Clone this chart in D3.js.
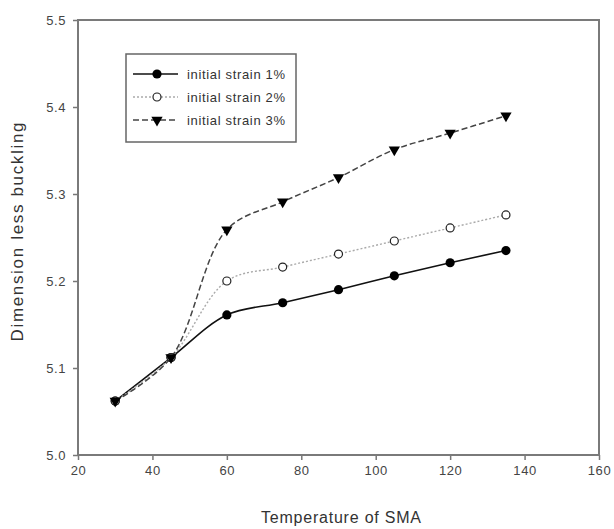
<!DOCTYPE html>
<html>
<head>
<meta charset="utf-8">
<script src="https://cdn.jsdelivr.net/npm/d3@7"></script>
<style>
  body { margin: 0; background: #fff; }
  svg { display: block; font-family: "Liberation Sans", Arial, sans-serif; }
</style>
</head>
<body>
<svg width="614" height="529"></svg>
<script>
// Data
const temperature = [30, 45, 60, 75, 90, 105, 120, 135];
const strain1 = [5.062, 5.112, 5.161, 5.175, 5.190, 5.206, 5.221, 5.235];
const strain2 = [5.062, 5.112, 5.200, 5.216, 5.231, 5.246, 5.261, 5.276];
const strain3 = [5.062, 5.112, 5.259, 5.291, 5.319, 5.351, 5.370, 5.390];
const seriesNames = ["initial strain 1%", "initial strain 2%", "initial strain 3%"];
const xTicks = [20, 40, 60, 80, 100, 120, 140, 160];
const yTicks = [5.0, 5.1, 5.2, 5.3, 5.4, 5.5];

const svg = d3.select("svg");
const margin = { left: 78, top: 20, right: 15, bottom: 74 };
const width = 614 - margin.left - margin.right;
const height = 529 - margin.top - margin.bottom;

const x = d3.scaleLinear().domain([20, 160]).range([0, width]);
const y = d3.scaleLinear().domain([5.0, 5.5]).range([height, 0]);

const g = svg.append("g").attr("transform", `translate(${margin.left},${margin.top})`);

// series styles: solid/filled circle, dotted/open circle, dashed/triangle
const styles = [
    { stroke: "#111", dash: null, width: 1.6, marker: "filled" },
    { stroke: "#aaa", dash: "2,2", width: 1.4, marker: "open" },
    { stroke: "#444", dash: "6,3", width: 1.5, marker: "triangle" }
];
const series = [strain1, strain2, strain3].map((vals, i) => ({
    name: seriesNames[i],
    style: styles[i],
    points: temperature.map((t, j) => ({ t: t, v: vals[j] }))
}));

// axes (ticks only, the frame is drawn as a rect)
const xAxis = g.append("g")
    .attr("transform", `translate(0,${height})`)
    .call(d3.axisBottom(x).tickValues(xTicks).tickSize(5).tickSizeOuter(0).tickPadding(6));
const yAxis = g.append("g")
    .call(d3.axisLeft(y).tickValues(yTicks).tickFormat(d3.format(".1f")).tickSize(5).tickSizeOuter(0).tickPadding(7));

[xAxis, yAxis].forEach(ax => {
    ax.select(".domain").remove();
    ax.selectAll(".tick line").attr("stroke", "#777").attr("stroke-width", 1.5);
    ax.selectAll(".tick text")
        .attr("fill", "#444")
        .attr("font-size", "13px")
        .style("letter-spacing", "0.6px");
});

g.append("rect")
    .attr("x", 0).attr("y", 0)
    .attr("width", width).attr("height", height)
    .attr("fill", "none")
    .attr("stroke", "#7a7a7a")
    .attr("stroke-width", 2);

// curves
const line = d3.line()
    .x(d => x(d.t))
    .y(d => y(d.v))
    .curve(d3.curveCatmullRom.alpha(0.5));

function drawMarker(sel, kind, cx, cy) {
    if (kind === "filled") {
        sel.append("circle").attr("cx", cx).attr("cy", cy).attr("r", 4.6).attr("fill", "#000");
    } else if (kind === "open") {
        sel.append("circle").attr("cx", cx).attr("cy", cy).attr("r", 4)
            .attr("fill", "#fff").attr("stroke", "#222").attr("stroke-width", 1.2);
    } else {
        sel.append("path")
            .attr("d", d3.symbol().type(d3.symbolTriangle).size(55)())
            .attr("transform", `translate(${cx},${cy}) rotate(180)`)
            .attr("fill", "#000");
    }
}

series.forEach(s => {
    g.append("path")
        .datum(s.points)
        .attr("d", line)
        .attr("fill", "none")
        .attr("stroke", s.style.stroke)
        .attr("stroke-width", s.style.width)
        .attr("stroke-dasharray", s.style.dash);
});
series.forEach(s => {
    const mg = g.append("g");
    s.points.forEach(p => drawMarker(mg, s.style.marker, x(p.t), y(p.v)));
});

// legend
const legend = svg.append("g").attr("transform", "translate(126,54)");
legend.append("rect")
    .attr("width", 170).attr("height", 88)
    .attr("fill", "#fff")
    .attr("stroke", "#666")
    .attr("stroke-width", 1.5);
series.forEach((s, i) => {
    const ly = 20 + i * 23;
    legend.append("line")
        .attr("x1", 7).attr("x2", 52)
        .attr("y1", ly).attr("y2", ly)
        .attr("stroke", s.style.stroke)
        .attr("stroke-width", s.style.width)
        .attr("stroke-dasharray", s.style.dash);
    drawMarker(legend, s.style.marker, 31, ly);
    legend.append("text")
        .attr("x", 61).attr("y", ly + 4.5)
        .attr("font-size", "13px")
        .attr("fill", "#333")
        .attr("textLength", 98)
        .attr("lengthAdjust", "spacing")
        .text(s.name);
});

// axis titles
svg.append("text")
    .attr("x", 341).attr("y", 523)
    .attr("text-anchor", "middle")
    .attr("font-size", "16px")
    .attr("fill", "#333")
    .attr("textLength", 160)
    .attr("lengthAdjust", "spacing")
    .text("Temperature of SMA");

svg.append("text")
    .attr("transform", "translate(23,232) rotate(-90)")
    .attr("text-anchor", "middle")
    .attr("font-size", "17px")
    .attr("fill", "#333")
    .attr("textLength", 219)
    .attr("lengthAdjust", "spacing")
    .text("Dimension less buckling");
</script>
</body>
</html>
